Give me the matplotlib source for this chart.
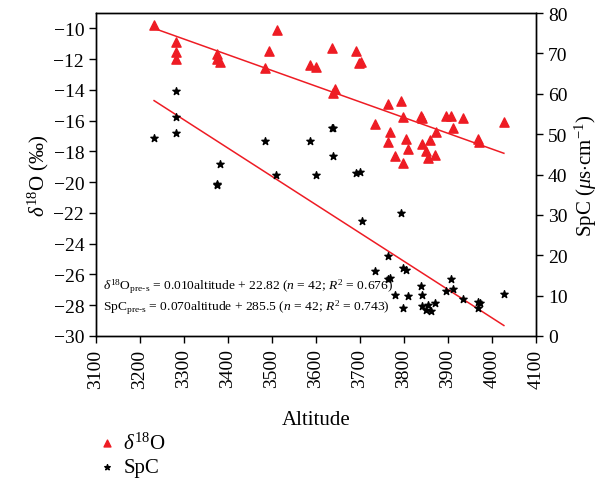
import numpy as np
import matplotlib
matplotlib.use('Agg')
from matplotlib import pyplot as plt

plt.rcParams['font.family'] = ['Liberation Serif', 'DejaVu Serif']
plt.rcParams['mathtext.fontset'] = 'custom'
plt.rcParams['mathtext.rm'] = 'Liberation Serif'
plt.rcParams['mathtext.it'] = 'Liberation Serif:italic'
plt.rcParams['mathtext.bf'] = 'Liberation Serif:bold'

# delta18O samples (altitude, permil)
d18o_alt = [3232, 3282, 3282, 3282, 3374, 3376, 3382, 3484, 3494, 3511,
            3586, 3599, 3637, 3638, 3644, 3692, 3698, 3702, 3735, 3764,
            3764, 3768, 3780, 3793, 3798, 3798, 3805, 3810, 3839, 3840,
            3842, 3851, 3854, 3860, 3870, 3872, 3895, 3907, 3912, 3933,
            3969, 3971, 4027]
d18o_val = [-9.75, -10.87, -11.56, -12.0, -11.67, -12.0, -12.2, -12.59, -11.5, -10.1,
            -12.4, -12.5, -11.3, -14.17, -13.95, -11.46, -12.26, -12.17, -16.23, -14.89,
            -17.39, -16.74, -18.3, -14.72, -15.76, -18.73, -17.17, -17.82, -15.69, -15.84,
            -17.54, -17.97, -18.45, -17.28, -18.23, -16.76, -15.71, -15.69, -16.5, -15.82,
            -17.17, -17.39, -16.1]

# SpC samples (altitude, uS/cm)
spc_alt = [3232, 3282, 3282, 3282, 3374, 3376, 3382, 3484, 3509, 3586,
           3599, 3636, 3638, 3639, 3692, 3699, 3704, 3735, 3764, 3764,
           3769, 3780, 3793, 3798, 3798, 3804, 3810, 3839, 3840, 3841,
           3851, 3854, 3861, 3870, 3895, 3907, 3912, 3933, 3968, 3969,
           3973, 4027]
spc_val = [49.0, 60.7, 54.3, 50.2, 37.6, 37.3, 42.6, 48.4, 39.9, 48.2,
           40.0, 51.4, 44.5, 51.6, 40.3, 40.5, 28.5, 16.1, 19.7, 14.1,
           14.3, 10.1, 30.4, 16.8, 7.0, 16.3, 10.0, 12.5, 10.2, 7.5,
           6.4, 7.8, 6.2, 8.1, 11.2, 14.2, 11.6, 9.1, 8.5, 6.9,
           8.2, 10.3]

# regression lines (end points)
fit_alt = [3232, 4027]
d18o_fit = [-10.0, -18.12]
spc_fit = [58.3, 2.6]

red = '#ee1c24'

fig = plt.figure(figsize=(6.10, 4.85), dpi=100)
ax = fig.add_axes([96 / 610, 1 - 337 / 485, 440 / 610, 323 / 485])
ax2 = ax.twinx()

h1 = ax.scatter(d18o_alt, d18o_val, marker='^', s=44, color=red, zorder=3,
                label=r'$\delta^{18}$O')
ax.plot(fit_alt, d18o_fit, color=red, lw=1.1, zorder=2)
h2 = ax2.scatter(spc_alt, spc_val, marker='*', s=30, color='black', zorder=3,
                 label='SpC')
ax2.plot(fit_alt, spc_fit, color=red, lw=1.1, zorder=2)

ax.set_xlim(3100, 4100)
ax.set_ylim(-30, -9)
ax2.set_ylim(0, 80)
ax.set_xticks(np.arange(3100, 4101, 100))
ax.set_yticks(np.arange(-30, -9, 2))
ax2.set_yticks(np.arange(0, 81, 10))
ax.set_xticklabels([str(v) for v in range(3100, 4101, 100)], rotation=90)
ax.set_yticklabels(['\u2212%d' % abs(v) for v in range(-30, -9, 2)])

for a in (ax, ax2):
    a.tick_params(labelsize=14, direction='out', length=5, width=1)
    for s in a.spines.values():
        s.set_linewidth(1)
ax.tick_params(axis='x', pad=4)

ax.set_xlabel('Altitude', fontsize=15, labelpad=16)
ax.set_ylabel(r'$\delta^{18}$O (‰)', fontsize=15, labelpad=2)
ax2.set_ylabel(r'SpC ($\mu$s$\cdot$cm$^{-1}$)', fontsize=15, labelpad=4)

ax.text(0.015, 0.155,
        r'$\delta^{18}$O$_{\rm pre\text{-}s}$ = 0.010altitude + 22.82 ($n$ = 42; $R^2$ = 0.676)',
        transform=ax.transAxes, fontsize=9.7, va='center')
ax.text(0.015, 0.09,
        r'SpC$_{\rm pre\text{-}s}$ = 0.070altitude + 285.5 ($n$ = 42; $R^2$ = 0.743)',
        transform=ax.transAxes, fontsize=9.7, va='center')

fig.legend(handles=[h1, h2], loc='upper left', bbox_to_anchor=(88 / 610, 1 - 425 / 485),
           frameon=False, fontsize=15, handletextpad=0.3, labelspacing=0.2,
           handlelength=1.0, markerscale=0.75, borderaxespad=0)

fig.savefig('out.png', dpi=100)
